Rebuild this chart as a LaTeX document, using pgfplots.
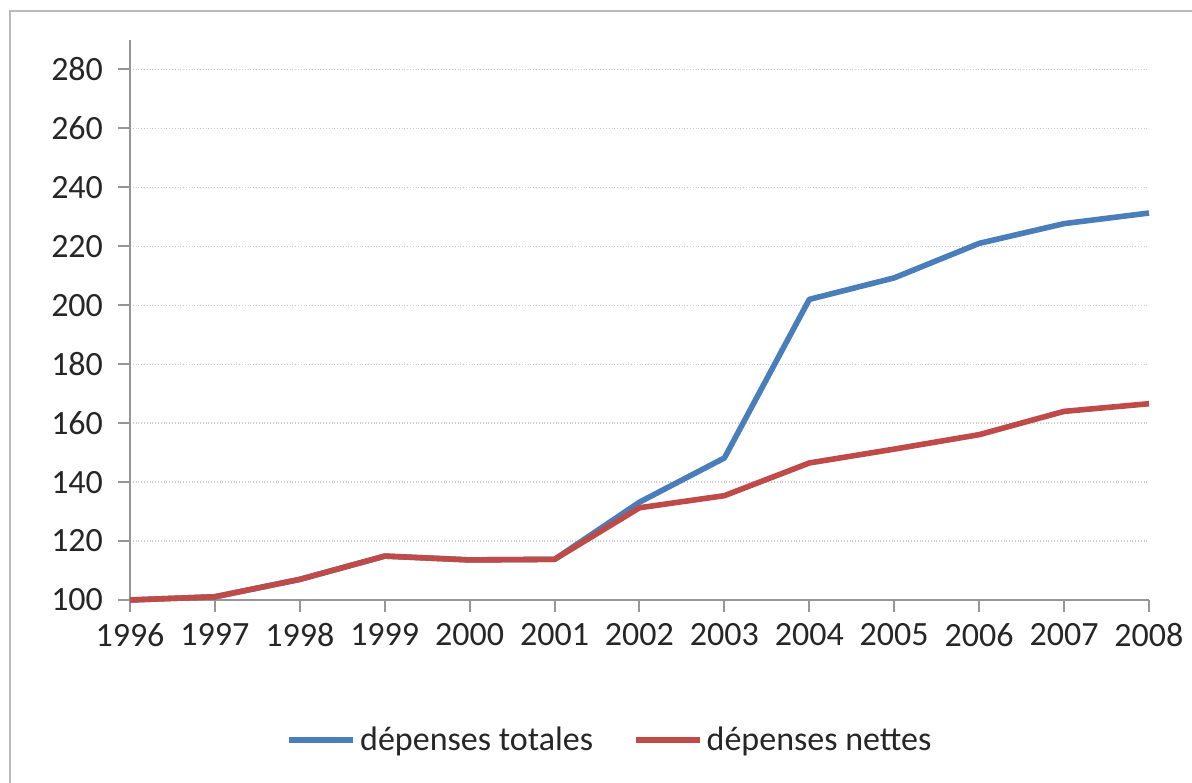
\documentclass[border=0pt]{standalone}
\usepackage{fontspec}
\setmainfont{Carlito}
\usepackage{pgfplots}
\pgfplotsset{compat=1.18}

\definecolor{xlblue}{RGB}{74,126,187}
\definecolor{xlred}{RGB}{190,75,72}
\definecolor{axgray}{RGB}{150,150,150}

\begin{document}
\begin{tikzpicture}
\useasboundingbox (-65pt,-91pt) rectangle (531pt,300pt);
\draw[gray!55, line width=1pt] (-60pt,-100pt) -- (-60pt,294.5pt) -- (540pt,294.5pt);
\begin{axis}[
    at={(0,0)}, anchor=south west,
    scale only axis,
    width=509.5pt, height=280pt,
    xmin=1996, xmax=2008,
    ymin=100, ymax=290,
    xtick={1996,...,2008},
    ytick={100,120,...,280},
    axis x line*=bottom,
    axis y line*=left,
    axis line style={axgray, line width=1pt, -},
    tick style={axgray, line width=1pt},
    tick align=outside,
    major tick length=6pt,
    ymajorgrids,
    major grid style={densely dotted, gray!40, line width=0.7pt},
    /pgf/number format/assume math mode=true,
    xticklabel={\pgfmathprintnumber[1000 sep={}]{\tick}},
    ticklabel style={font=\fontsize{17}{20}\selectfont, text=black!85},
    yticklabel style={xshift=-4pt},
    xticklabel style={yshift=-2pt},
    legend style={at={(0.472,-0.25)}, anchor=center, draw=none, fill=none,
        legend columns=2, font=\fontsize{17}{20}\selectfont, text=black!85,
        /tikz/every even column/.append style={column sep=18pt}},
    legend image code/.code={\draw[#1] (0pt,0pt) -- (32pt,0pt);},
    legend cell align=left,
    clip=false,
]
\addplot[xlblue, line width=2.8pt, line join=round] coordinates {
    (1996,100) (1997,101.1) (1998,107) (1999,114.9) (2000,113.6) (2001,113.8)
    (2002,133.2) (2003,148.2) (2004,202) (2005,209.3) (2006,221) (2007,227.7) (2008,231.3)
};
\addplot[xlred, line width=2.8pt, line join=round] coordinates {
    (1996,100) (1997,101.1) (1998,107) (1999,114.9) (2000,113.6) (2001,113.8)
    (2002,131.3) (2003,135.4) (2004,146.5) (2005,151.2) (2006,156.1) (2007,164) (2008,166.6)
};
\legend{dépenses totales, dépenses nettes}
\end{axis}
\end{tikzpicture}
\end{document}
